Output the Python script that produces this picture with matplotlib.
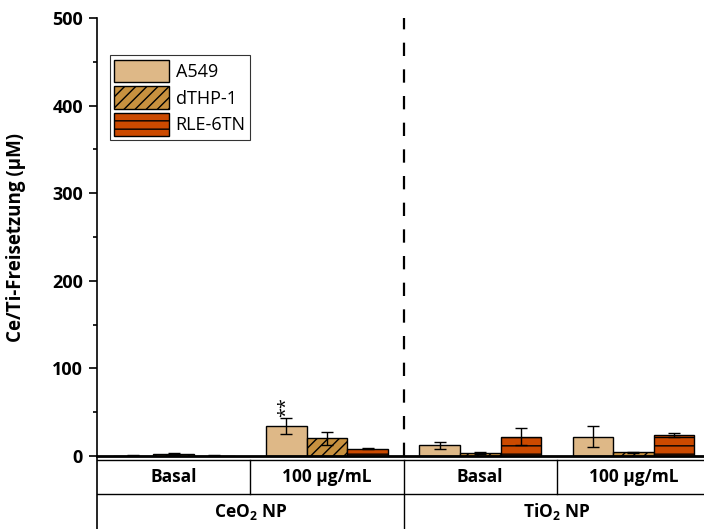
import numpy as np
import matplotlib
matplotlib.use('Agg')
import matplotlib.pyplot as plt

# Daten
cell_lines = ['A549', 'dTHP-1', 'RLE-6TN']
conditions = ['Basal', '100 µg/mL', 'Basal', '100 µg/mL']
particles = ['CeO$_\\mathbf{2}$ NP', 'TiO$_\\mathbf{2}$ NP']

a549 = [0.5, 34, 12, 22]
a549_err = [0.3, 9, 4, 12]
dthp1 = [2.5, 20, 3, 4]
dthp1_err = [1.0, 7, 1, 1]
rle6tn = [0.5, 8.5, 22, 24]
rle6tn_err = [0.3, 1, 10, 2]

colors = ['#DEB887', '#C8913F', '#CC4A00']
hatches = ['', '///', '--']

plt.rcParams['font.family'] = ['Open Sans', 'DejaVu Sans']
plt.rcParams['mathtext.fontset'] = 'custom'
plt.rcParams['mathtext.rm'] = 'Open Sans'
plt.rcParams['mathtext.bf'] = 'Open Sans:bold'
plt.rcParams['hatch.linewidth'] = 1.0

W, H = 704, 529
fig = plt.figure(figsize=(W / 100, H / 100), dpi=100)
ax = fig.add_axes([97 / W, 1 - 456 / H, 607 / W, 438 / H])
tab = fig.add_axes([97 / W, 0, 607 / W, 73 / H])

x = np.arange(len(conditions))
bw = 0.265
series = [(a549, a549_err), (dthp1, dthp1_err), (rle6tn, rle6tn_err)]
for i, (vals, errs) in enumerate(series):
    ax.bar(x + (i - 1) * bw, vals, bw, color=colors[i], edgecolor='black',
           linewidth=1, hatch=hatches[i], label=cell_lines[i], zorder=2)
    ax.errorbar(x + (i - 1) * bw, vals, yerr=errs, fmt='none', ecolor='black',
                elinewidth=1, capsize=4.5, capthick=1, zorder=3)

# Signifikanz
ax.text(1 - bw, a549[1] + a549_err[1] + 2, '**', rotation=90, ha='center',
        va='bottom', fontsize=13)

ax.axvline(1.5, color='black', lw=1.6, ls=(0, (6, 6)))

ax.set_xlim(-0.5, 3.46)
ax.set_ylim(0, 500)
ax.set_yticks(np.arange(0, 501, 100))
ax.set_yticks(np.arange(50, 500, 100), minor=True)
ax.set_xticks([])
for s in ['top', 'right']:
    ax.spines[s].set_visible(False)
ax.spines['left'].set_linewidth(1.2)
ax.spines['bottom'].set_linewidth(2)
ax.tick_params(axis='y', which='major', length=6, width=1.2, direction='out',
               labelsize=13, pad=4)
ax.tick_params(axis='y', which='minor', length=3, width=1.2, direction='out')
for lbl in ax.get_yticklabels():
    lbl.set_fontweight('bold')
ax.set_ylabel('Ce/Ti-Freisetzung (µM)', fontsize=13.5, fontweight='bold',
              labelpad=19)

leg = ax.legend(loc='upper left', bbox_to_anchor=(0.021, 0.915), fontsize=13,
                frameon=True, fancybox=False, edgecolor='black',
                handlelength=3.05, handleheight=1.55, labelspacing=0.22,
                borderpad=0.25, handletextpad=0.35, borderaxespad=0)
leg.get_frame().set_linewidth(0.8)

# Tabelle unter der Achse
tab.set_xlim(ax.get_xlim())
tab.set_ylim(0, 73)
tab.set_xticks([])
tab.set_yticks([])
for s in ['top', 'right', 'bottom']:
    tab.spines[s].set_visible(False)
tab.spines['left'].set_linewidth(1.2)
tab.patch.set_alpha(0)
tab.axhline(69, color='black', lw=1)
tab.axhline(35, color='black', lw=1)
tab.plot([0.5, 0.5], [35, 69], color='black', lw=1)
tab.plot([2.5, 2.5], [35, 69], color='black', lw=1)
tab.plot([1.5, 1.5], [0, 69], color='black', lw=1)
for xi, c in zip(x, conditions):
    tab.text(xi, 52, c, ha='center', va='center', fontsize=12.5, fontweight='bold')
for xi, p in zip([0.5, 2.5], particles):
    tab.text(xi, 17, p, ha='center', va='center', fontsize=12.5, fontweight='bold')

fig.savefig('out.png', dpi=100)
